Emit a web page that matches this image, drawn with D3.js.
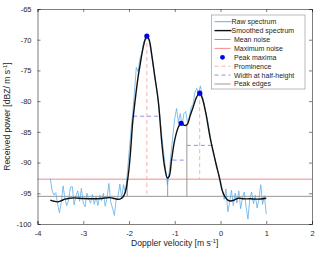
<!DOCTYPE html>
<html lang="en">
<head>
<meta charset="utf-8">
<title>Doppler spectrum peaks</title>
<script src="https://d3js.org/d3.v7.min.js"></script>
<style>
  body { margin: 0; background: #fff; }
  svg { display: block; font-family: "Liberation Sans", Arial, sans-serif; }
  .tick text { font-size: 7.5px; fill: #262626; }
  .lab { font-size: 8.6px; fill: #262626; }
  .leg { font-size: 7px; fill: #262626; }
</style>
</head>
<body>
<script>
// raw spectrum, velocity grid -3.72 .. 1.00 step 0.04
var rawStart = -3.72, rawStep = 0.04;
var rawPower = [
  -92.6, -94.6, -95.3, -94.9, -96.8, -98.2, -96.5, -93.8, -95.9, -97.0,
  -96.1, -94.0, -93.9, -96.9, -95.4, -94.6, -96.3, -94.2, -96.6, -97.2,
  -95.0, -96.0, -96.6, -95.2, -96.8, -95.6, -97.0, -95.3, -96.2, -95.0,
  -97.1, -95.8, -93.4, -96.4, -97.4, -98.6, -96.0, -95.5, -93.5, -95.8,
  -93.6, -95.0, -92.0, -88.5, -85.0, -82.0, -78.5, -74.5, -75.2, -73.0,
  -72.2, -70.3, -70.0, -69.6, -70.2, -71.8, -74.0, -75.6, -77.8, -80.0,
  -82.8, -86.0, -88.5, -91.2, -93.6, -91.5, -88.5, -85.5, -82.8, -81.2,
  -83.5, -82.0, -84.0, -82.0, -81.7, -83.5, -82.5, -81.0, -80.5, -78.6,
  -77.9, -78.8, -77.5, -79.0, -80.3, -81.8, -83.2, -85.0, -86.8, -88.0,
  -89.5, -91.0, -91.8, -93.0, -94.5, -96.0, -94.3, -98.0, -96.5, -94.5,
  -97.0, -95.0, -96.6, -94.6, -97.5, -95.8, -94.8, -97.2, -99.2, -96.0,
  -94.8, -96.7, -95.3, -97.4, -96.0, -93.6, -96.8, -95.4, -98.4
];

var smoothVel = [-3.72, -3.64, -3.56, -3.48, -3.40, -3.30, -3.20, -3.00, -2.80, -2.60,
  -2.42, -2.30, -2.20, -2.14, -2.08, -2.04, -2.00, -1.96, -1.92, -1.86,
  -1.80, -1.76, -1.70, -1.64, -1.61, -1.56, -1.50, -1.44, -1.36, -1.28,
  -1.22, -1.16, -1.12, -1.07, -1.00, -0.92, -0.86, -0.80, -0.76, -0.72,
  -0.66, -0.595, -0.52, -0.455, -0.40, -0.32, -0.23, -0.12, -0.02, 0.04,
  0.10, 0.16, 0.22, 0.30, 0.39, 0.50, 0.65, 0.80, 1.00];
var smoothPower = [-96.1, -96.3, -96.4, -96.2, -95.95, -95.8, -95.75, -95.85, -95.9, -95.85,
  -95.7, -95.9, -95.95, -95.7, -94.8, -93.3, -91.0, -87.6, -83.5, -79.5,
  -76.0, -74.2, -71.6, -69.8, -69.4, -70.0, -72.6, -75.8, -80.0, -87.0,
  -90.8, -92.5, -92.2, -89.6, -86.3, -84.2, -83.6, -83.9, -83.95, -83.7,
  -82.3, -80.9, -79.3, -78.7, -79.5, -82.0, -85.8, -89.5, -92.6, -94.6,
  -95.6, -96.1, -96.25, -96.1, -95.8, -95.9, -95.9, -95.95, -95.8];

var meanNoise = -95.5;
var maxNoise = -92.7;

var peakVel = [-1.61, -0.86, -0.455];
var peakPower = [-69.4, -83.6, -78.7];
var promBase = [-95.5, -84.0, -92.7];
var halfHeight = [-82.45, -89.6, -87.2];
var halfLeft = [-1.91, -1.045, -0.735];
var halfRight = [-1.35, -0.735, -0.195];
var edgeVel = [-2.04, -1.155, -0.735, 0.09];
var edgeTop = [-92.8, -92.5, -83.8, -95.5];

var xTicks = [-4, -3, -2, -1, 0, 1, 2];
var yTicks = [-100, -95, -90, -85, -80, -75, -70, -65];

var legendLabels = ["Raw spectrum", "Smoothed spectrum", "Mean noise", "Maximum noise",
  "Peak maxima", "Prominence", "Width at half-height", "Peak edges"];

var width = 320, height = 254;
var mLeft = 37.5, mRight = 312, mTop = 9, mBottom = 224;

var svg = d3.select("body").append("svg")
  .attr("width", width)
  .attr("height", height);

var x = d3.scaleLinear().domain([-4, 2]).range([mLeft, mRight]);
var y = d3.scaleLinear().domain([-100, -65]).range([mBottom, mTop]);

var line = d3.line()
  .x(function(d) { return x(d[0]); })
  .y(function(d) { return y(d[1]); });

var rawData = rawPower.map(function(p, i) { return [rawStart + i * rawStep, p]; });
var smoothData = smoothVel.map(function(v, i) { return [v, smoothPower[i]]; });

var colRaw = "#62ade6", colMax = "#f47c7c", colProm = "#fbb0b0", colWidth = "#8f8ff5", colGray = "#8c8c8c";

// noise levels
svg.append("line")
  .attr("x1", x(-4)).attr("x2", x(2))
  .attr("y1", y(meanNoise)).attr("y2", y(meanNoise))
  .attr("stroke", colGray).attr("stroke-width", 0.9);
svg.append("line")
  .attr("x1", x(-4)).attr("x2", x(2))
  .attr("y1", y(maxNoise)).attr("y2", y(maxNoise))
  .attr("stroke", colMax).attr("stroke-width", 0.9);

// raw
svg.append("path")
  .datum(rawData)
  .attr("d", line)
  .attr("fill", "none")
  .attr("stroke", colRaw)
  .attr("stroke-width", 0.8);

// prominence
svg.selectAll(".prom")
  .data(peakVel)
  .enter().append("line")
  .attr("class", "prom")
  .attr("x1", function(d) { return x(d); })
  .attr("x2", function(d) { return x(d); })
  .attr("y1", function(d, i) { return y(peakPower[i]); })
  .attr("y2", function(d, i) { return y(promBase[i]); })
  .attr("stroke", colProm).attr("stroke-width", 1)
  .attr("stroke-dasharray", "4,3");

// widths at half height
svg.selectAll(".half")
  .data(halfHeight)
  .enter().append("line")
  .attr("class", "half")
  .attr("x1", function(d, i) { return x(halfLeft[i]); })
  .attr("x2", function(d, i) { return x(halfRight[i]); })
  .attr("y1", function(d) { return y(d); })
  .attr("y2", function(d) { return y(d); })
  .attr("stroke", colWidth).attr("stroke-width", 1)
  .attr("stroke-dasharray", "4,3");

// peak edges
svg.selectAll(".edge")
  .data(edgeVel)
  .enter().append("line")
  .attr("class", "edge")
  .attr("x1", function(d) { return x(d); })
  .attr("x2", function(d) { return x(d); })
  .attr("y1", function(d, i) { return y(edgeTop[i]); })
  .attr("y2", y(meanNoise))
  .attr("stroke", colGray).attr("stroke-width", 0.9);

// smoothed
svg.append("path")
  .datum(smoothData)
  .attr("d", line.curve(d3.curveCatmullRom))
  .attr("fill", "none")
  .attr("stroke", "#111")
  .attr("stroke-width", 1.4);

// peak maxima
svg.selectAll(".peak")
  .data(peakVel)
  .enter().append("circle")
  .attr("cx", function(d) { return x(d); })
  .attr("cy", function(d, i) { return y(peakPower[i]); })
  .attr("r", 2.6)
  .attr("fill", "#0000ee");

// axes, MATLAB style box with inward ticks
var axCol = "#262626";
var gx = svg.append("g").attr("transform", "translate(0," + mBottom + ")")
  .call(d3.axisBottom(x).tickValues(xTicks).tickSize(-3).tickPadding(7).tickFormat(d3.format("d")));
var gxt = svg.append("g").attr("transform", "translate(0," + mTop + ")")
  .call(d3.axisTop(x).tickValues(xTicks).tickSize(-3).tickFormat(""));
var gy = svg.append("g").attr("transform", "translate(" + mLeft + ",0)")
  .call(d3.axisLeft(y).tickValues(yTicks).tickSize(-3).tickPadding(6).tickFormat(d3.format("d")));
var gyr = svg.append("g").attr("transform", "translate(" + mRight + ",0)")
  .call(d3.axisRight(y).tickValues(yTicks).tickSize(-3).tickFormat(""));
[gx, gxt, gy, gyr].forEach(function(g) {
  g.select(".domain").attr("stroke", axCol).attr("stroke-width", 0.6);
  g.selectAll(".tick line").attr("stroke", axCol).attr("stroke-width", 0.6);
  g.selectAll(".tick text").attr("font-family", null).attr("font-size", null);
});
// plain hyphen minus like matlab
gx.selectAll(".tick text").text(function(d) { return String(d); });
gy.selectAll(".tick text").text(function(d) { return String(d); });

// axis labels
var xl = svg.append("text").attr("class", "lab")
  .attr("x", (mLeft + mRight) / 2).attr("y", 246)
  .attr("text-anchor", "middle");
xl.append("tspan").text("Doppler velocity [m s");
xl.append("tspan").attr("dy", -3).attr("font-size", "5.8px").text("-1");
xl.append("tspan").attr("dy", 3).text("]");

var yl = svg.append("text").attr("class", "lab")
  .attr("transform", "translate(10," + ((mTop + mBottom) / 2) + ") rotate(-90)")
  .attr("text-anchor", "middle");
yl.append("tspan").text("Received power [dBZ/ m s");
yl.append("tspan").attr("dy", -3).attr("font-size", "5.8px").text("-1");
yl.append("tspan").attr("dy", 3).text("]");

// legend
var lx = 211.5, ly = 15, lw = 93.5, lh = 74, rowH = 8.9;
var lg = svg.append("g");
lg.append("rect")
  .attr("x", lx).attr("y", ly).attr("width", lw).attr("height", lh)
  .attr("fill", "#fff").attr("stroke", "#8c8c8c").attr("stroke-width", 0.6);

var legStyle = [
  { c: colRaw, w: 1, dash: null },
  { c: "#111", w: 1.4, dash: null },
  { c: colGray, w: 0.9, dash: null },
  { c: colMax, w: 0.9, dash: null },
  { c: "#0000ee", dot: true },
  { c: colProm, w: 1, dash: "4,3" },
  { c: colWidth, w: 1, dash: "4,3" },
  { c: colGray, w: 0.9, dash: null }
];

legendLabels.forEach(function(t, i) {
  var yy = ly + 6.7 + i * rowH;
  var s = legStyle[i];
  if (s.dot) {
    lg.append("circle").attr("cx", 222.5).attr("cy", yy).attr("r", 2.4).attr("fill", s.c);
  } else {
    lg.append("line")
      .attr("x1", 214.5).attr("x2", i < 2 ? 231.5 : 230.5)
      .attr("y1", yy).attr("y2", yy)
      .attr("stroke", s.c).attr("stroke-width", s.w)
      .attr("stroke-dasharray", s.dash);
  }
  lg.append("text").attr("class", "leg")
    .attr("x", i < 2 ? 231.5 : 234).attr("y", yy + 2.4)
    .text(t);
});
</script>
</body>
</html>
